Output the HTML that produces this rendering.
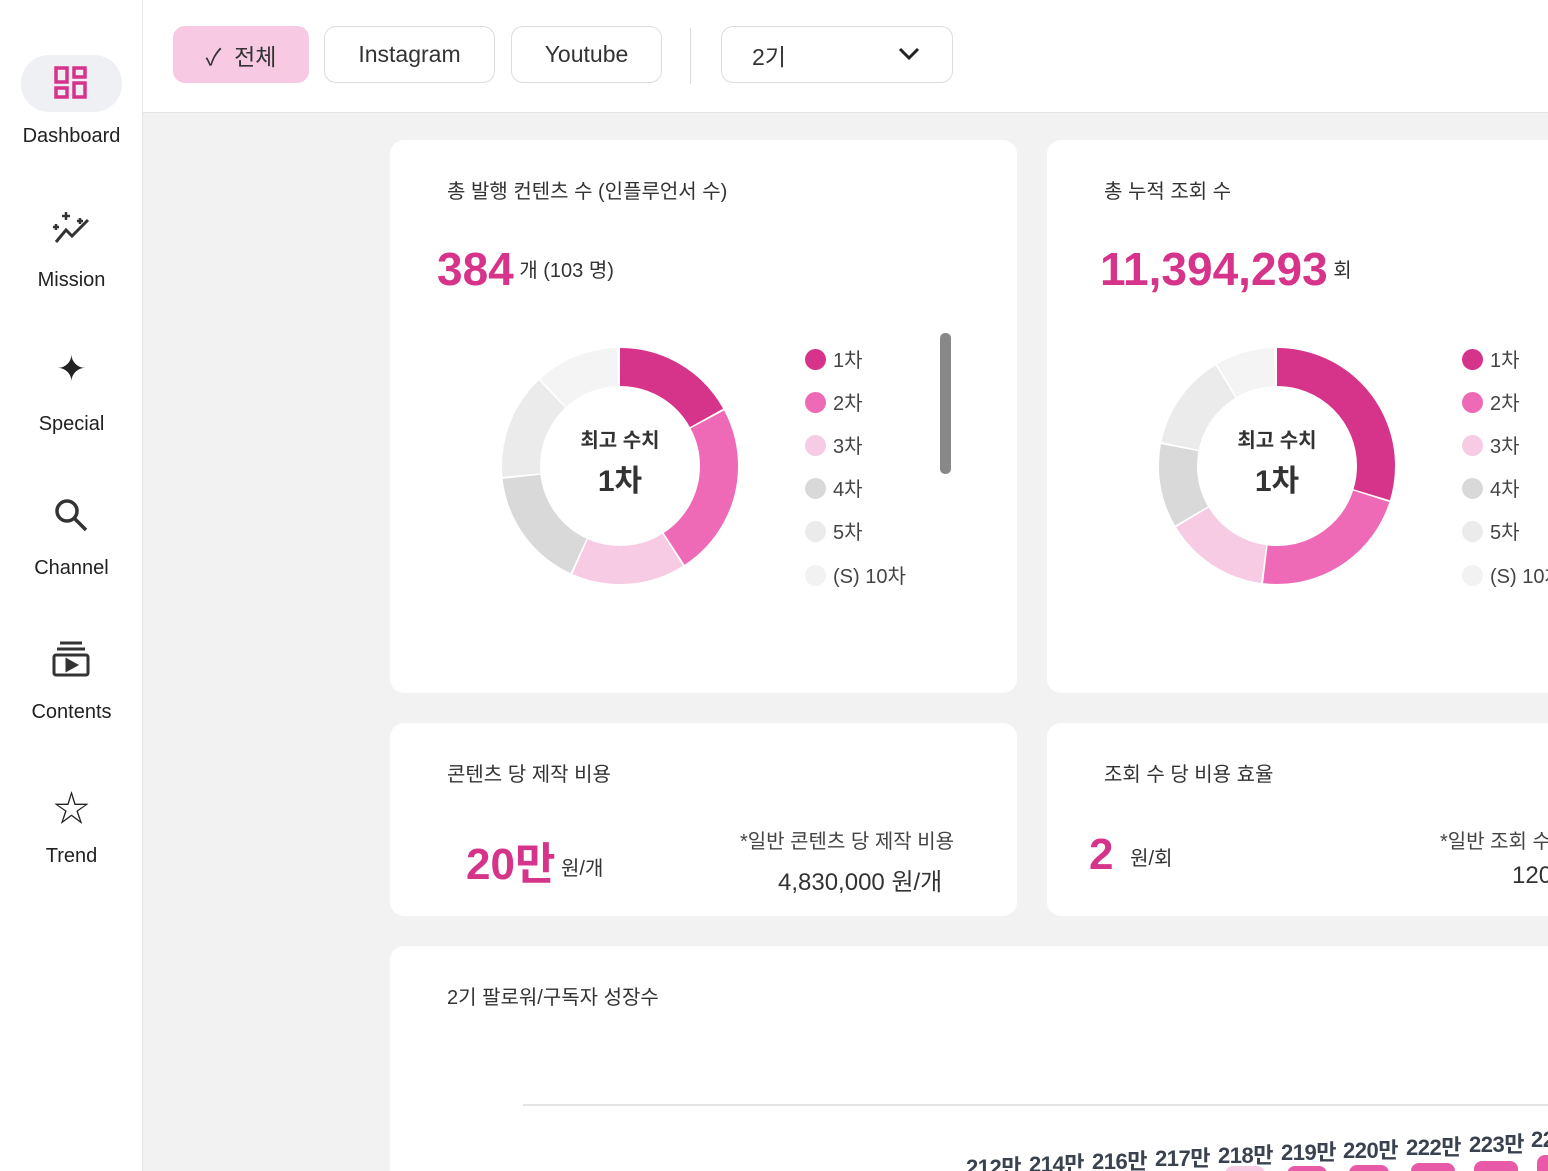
<!DOCTYPE html>
<html style="width:1548px;height:1171px;overflow:hidden"><head><meta charset="utf-8"><style>
*{margin:0;padding:0;box-sizing:border-box}
body{width:1548px;height:1171px;overflow:hidden;background:#f2f2f2;font-family:"Liberation Sans","Noto Sans CJK KR",sans-serif;color:#333;position:relative}
.abs{position:absolute}
.side{left:0;top:0;width:143px;height:1171px;background:#fff;border-right:1px solid #e6e6e6}
.nav{position:absolute;left:0;width:143px;text-align:center;font-size:20px;color:#222}
.top{left:143px;top:0;width:1405px;height:113px;background:#fff;border-bottom:1px solid #e2e2e2}
.btn{position:absolute;top:26px;height:57px;border:1px solid #ddd;border-radius:12px;font-size:23px;color:#333;display:flex;align-items:center;justify-content:center;background:#fff}
.card{position:absolute;background:#fff;border-radius:14px}
.t{position:absolute;font-size:20px;color:#333}
.pink{color:#d6338a;font-weight:bold}
.lg{position:absolute;font-size:20px;color:#444}
.dot{display:inline-block;width:21px;height:21px;border-radius:50%;vertical-align:-3px;margin-right:7px}
.lab{position:absolute;font-size:22px;font-weight:bold;color:#3a4250;white-space:nowrap;letter-spacing:-0.5px}
</style></head><body>
<div class="abs side"></div>
<div class="abs" style="left:21px;top:55px;width:101px;height:57px;border-radius:28px;background:#eef0f3"></div>
<svg class="abs" style="left:54px;top:66px" width="34" height="34" viewBox="0 0 34 34" fill="none" stroke="#d6338a" stroke-width="3.5"><rect x="2" y="2" width="11" height="14"/><rect x="2" y="22" width="11" height="9"/><rect x="20" y="2" width="11" height="9"/><rect x="20" y="17" width="11" height="14"/></svg>
<div class="nav" style="top:125px">Dashboard</div>
<svg class="abs" style="left:52px;top:210px" width="40" height="36" viewBox="0 0 40 36" fill="none" stroke="#333" stroke-width="3"><path d="M4 32 L14 20 L20 26 L36 10"/><path d="M14 2 v8 M10 6 h8 M4 14 v6 M1 17 h6 M28 8 v6 M25 11 h6" stroke-width="2.5"/></svg>
<div class="nav" style="top:269px">Mission</div>
<div class="nav" style="top:348px;font-size:36px">✦</div>
<div class="nav" style="top:413px">Special</div>
<svg class="abs" style="left:53px;top:497px" width="36" height="36" viewBox="0 0 36 36" fill="none" stroke="#333" stroke-width="3.5"><circle cx="14" cy="14" r="10"/><line x1="21" y1="21" x2="33" y2="33"/></svg>
<div class="nav" style="top:557px">Channel</div>
<svg class="abs" style="left:52px;top:640px" width="38" height="38" viewBox="0 0 38 38" fill="none" stroke="#333" stroke-width="3"><line x1="8" y1="3" x2="30" y2="3"/><line x1="5" y1="9" x2="33" y2="9"/><rect x="2" y="15" width="34" height="20" rx="2"/><path d="M15 20 L24 25 L15 30Z" fill="#333"/></svg>
<div class="nav" style="top:701px">Contents</div>
<div class="nav" style="top:780px;font-size:36px">☆</div>
<div class="nav" style="top:845px">Trend</div>

<div class="abs top"></div>
<div class="btn" style="left:173px;width:136px;background:#f7c9e2;border-color:#f7c9e2">✓&nbsp;&nbsp;전체</div>
<div class="btn" style="left:324px;width:171px">Instagram</div>
<div class="btn" style="left:511px;width:151px">Youtube</div>
<div class="abs" style="left:690px;top:28px;width:1px;height:56px;background:#ddd"></div>
<div class="btn" style="left:721px;width:232px;justify-content:flex-start;padding-left:30px">2기<svg style="position:absolute;right:32px;top:20px" width="22" height="14" viewBox="0 0 22 14"><path d="M2 2 L11 11 L20 2" fill="none" stroke="#222" stroke-width="3"/></svg></div>

<div class="card" style="left:390px;top:140px;width:627px;height:553px"></div>
<div class="card" style="left:1047px;top:140px;width:520px;height:553px"></div>
<div class="card" style="left:390px;top:723px;width:627px;height:193px"></div>
<div class="card" style="left:1047px;top:723px;width:520px;height:193px"></div>
<div class="card" style="left:390px;top:946px;width:1180px;height:240px"></div>

<div class="t" style="left:447px;top:175px">총 발행 컨텐츠 수 (인플루언서 수)</div>
<div class="t" style="left:437px;top:242px"><span class="pink" style="font-size:46px">384</span> <span style="vertical-align:8px">개 (103 명)</span></div>
<div class="t" style="left:1104px;top:175px">총 누적 조회 수</div>
<div class="t" style="left:1100px;top:242px"><span class="pink" style="font-size:46px">11,394,293</span> <span style="vertical-align:8px">회</span></div>

<svg class="abs" style="left:0;top:0" width="1548" height="700">
<g transform="rotate(-90 620 466)" fill="none" stroke-width="38">
<circle cx="620" cy="466" r="99" pathLength="360" stroke="#d6338a" stroke-dasharray="61 400" stroke-dashoffset="0"/>
<circle cx="620" cy="466" r="99" pathLength="360" stroke="#ee6ab7" stroke-dasharray="85 400" stroke-dashoffset="-62"/>
<circle cx="620" cy="466" r="99" pathLength="360" stroke="#f6cbe3" stroke-dasharray="56 400" stroke-dashoffset="-148"/>
<circle cx="620" cy="466" r="99" pathLength="360" stroke="#d9d9d9" stroke-dasharray="59 400" stroke-dashoffset="-205"/>
<circle cx="620" cy="466" r="99" pathLength="360" stroke="#ebebeb" stroke-dasharray="52 400" stroke-dashoffset="-265"/>
<circle cx="620" cy="466" r="99" pathLength="360" stroke="#f4f4f4" stroke-dasharray="41 400" stroke-dashoffset="-318"/>
</g>
<g transform="rotate(-90 1277 466)" fill="none" stroke-width="38">
<circle cx="1277" cy="466" r="99" pathLength="360" stroke="#d6338a" stroke-dasharray="107 400" stroke-dashoffset="0"/>
<circle cx="1277" cy="466" r="99" pathLength="360" stroke="#ee6ab7" stroke-dasharray="79 400" stroke-dashoffset="-108"/>
<circle cx="1277" cy="466" r="99" pathLength="360" stroke="#f6cbe3" stroke-dasharray="51 400" stroke-dashoffset="-188"/>
<circle cx="1277" cy="466" r="99" pathLength="360" stroke="#d9d9d9" stroke-dasharray="41 400" stroke-dashoffset="-240"/>
<circle cx="1277" cy="466" r="99" pathLength="360" stroke="#ebebeb" stroke-dasharray="47 400" stroke-dashoffset="-282"/>
<circle cx="1277" cy="466" r="99" pathLength="360" stroke="#f4f4f4" stroke-dasharray="29 400" stroke-dashoffset="-330"/>
</g>
<text x="620" y="447" text-anchor="middle" font-size="20" font-weight="bold" fill="#333" font-family="Liberation Sans,Noto Sans CJK KR,sans-serif">최고 수치</text>
<text x="620" y="491" text-anchor="middle" font-size="30" font-weight="bold" fill="#333" font-family="Liberation Sans,Noto Sans CJK KR,sans-serif">1차</text>
<text x="1277" y="447" text-anchor="middle" font-size="20" font-weight="bold" fill="#333" font-family="Liberation Sans,Noto Sans CJK KR,sans-serif">최고 수치</text>
<text x="1277" y="491" text-anchor="middle" font-size="30" font-weight="bold" fill="#333" font-family="Liberation Sans,Noto Sans CJK KR,sans-serif">1차</text>
<rect x="940" y="333" width="11" height="141" rx="5" fill="#888"/>
</svg>

<div class="lg" style="left:805px;top:344px"><span class="dot" style="background:#d6338a"></span>1차</div>
<div class="lg" style="left:805px;top:387px"><span class="dot" style="background:#ee6ab7"></span>2차</div>
<div class="lg" style="left:805px;top:430px"><span class="dot" style="background:#f6cbe3"></span>3차</div>
<div class="lg" style="left:805px;top:473px"><span class="dot" style="background:#d9d9d9"></span>4차</div>
<div class="lg" style="left:805px;top:516px"><span class="dot" style="background:#ebebeb"></span>5차</div>
<div class="lg" style="left:805px;top:560px"><span class="dot" style="background:#f2f2f2"></span>(S) 10차</div>
<div class="lg" style="left:1462px;top:344px"><span class="dot" style="background:#d6338a"></span>1차</div>
<div class="lg" style="left:1462px;top:387px"><span class="dot" style="background:#ee6ab7"></span>2차</div>
<div class="lg" style="left:1462px;top:430px"><span class="dot" style="background:#f6cbe3"></span>3차</div>
<div class="lg" style="left:1462px;top:473px"><span class="dot" style="background:#d9d9d9"></span>4차</div>
<div class="lg" style="left:1462px;top:516px"><span class="dot" style="background:#ebebeb"></span>5차</div>
<div class="lg" style="left:1462px;top:560px;white-space:nowrap"><span class="dot" style="background:#f2f2f2"></span>(S) 10차</div>

<div class="t" style="left:447px;top:758px">콘텐츠 당 제작 비용</div>
<div class="t" style="left:466px;top:828px"><span class="pink" style="font-size:44px">20만</span> <span style="vertical-align:4px">원/개</span></div>
<div class="t" style="left:740px;top:825px;color:#444">*일반 콘텐츠 당 제작 비용</div>
<div class="t" style="left:778px;top:862px;font-size:24px">4,830,000 원/개</div>
<div class="t" style="left:1104px;top:758px">조회 수 당 비용 효율</div>
<div class="t" style="left:1089px;top:830px;white-space:nowrap"><span class="pink" style="font-size:44px">2</span>&nbsp;&nbsp; <span style="vertical-align:4px">원/회</span></div>
<div class="t" style="left:1440px;top:825px;color:#444;white-space:nowrap">*일반 조회 수</div>
<div class="t" style="left:1512px;top:862px;font-size:24px">120</div>

<div class="t" style="left:447px;top:981px">2기 팔로워/구독자 성장수</div>
<div class="abs" style="left:523px;top:1104px;width:1030px;height:2px;background:#e4e4e4"></div>
<div class="lab" style="left:966px;top:1150px">212만</div>
<div class="lab" style="left:1029px;top:1147px">214만</div>
<div class="lab" style="left:1092px;top:1144px">216만</div>
<div class="lab" style="left:1155px;top:1141px">217만</div>
<div class="lab" style="left:1218px;top:1138px">218만</div>
<div class="lab" style="left:1281px;top:1135px">219만</div>
<div class="lab" style="left:1343px;top:1133px">220만</div>
<div class="lab" style="left:1406px;top:1130px">222만</div>
<div class="lab" style="left:1469px;top:1127px">223만</div>
<div class="lab" style="left:1531px;top:1122px">224만</div>
<div class="abs" style="left:1225px;top:1166px;width:40px;height:20px;border-radius:8px;background:#f6cbe3"></div>
<div class="abs" style="left:1287px;top:1166px;width:40px;height:20px;border-radius:8px;background:#e85aa8"></div>
<div class="abs" style="left:1349px;top:1165px;width:40px;height:20px;border-radius:8px;background:#e85aa8"></div>
<div class="abs" style="left:1411px;top:1163px;width:44px;height:20px;border-radius:8px;background:#e85aa8"></div>
<div class="abs" style="left:1474px;top:1161px;width:44px;height:20px;border-radius:8px;background:#e85aa8"></div>
<div class="abs" style="left:1537px;top:1155px;width:20px;height:30px;border-radius:8px;background:#e85aa8"></div>
</body></html>
